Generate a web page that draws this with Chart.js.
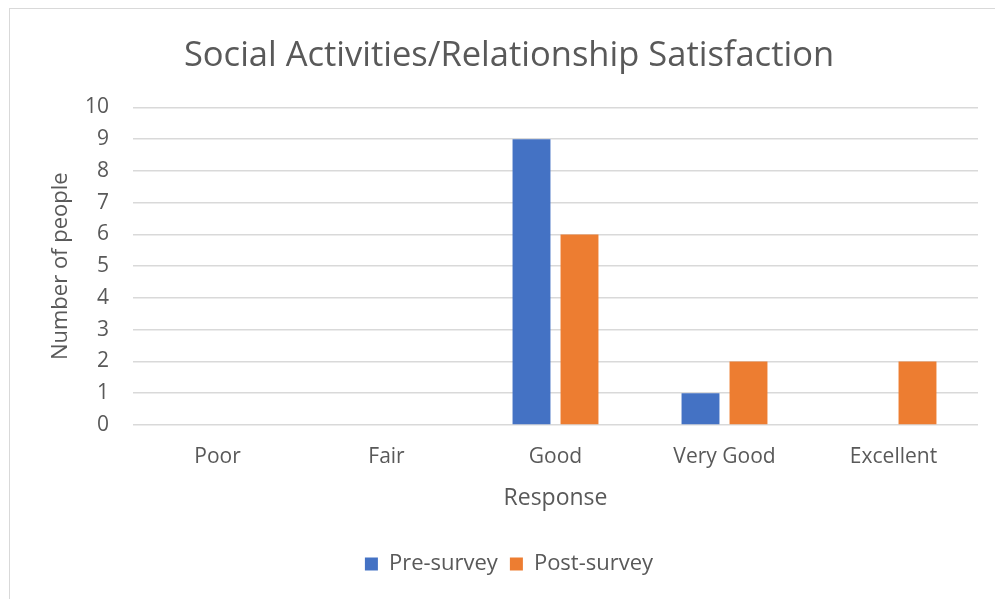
<!DOCTYPE html>
<html><head><meta charset="utf-8">
<script src="https://cdn.jsdelivr.net/npm/chart.js@4/dist/chart.umd.min.js"></script>
<style>
html,body{margin:0;padding:0;background:#fff;}
#wrap{position:relative;width:995px;height:599px;}
#frame{position:absolute;left:9px;top:8px;width:1000px;height:700px;border:1px solid #d9d9d9;box-sizing:border-box;}
canvas{position:absolute;left:0;top:0;}
</style></head>
<body><div id="wrap"><div id="frame"></div><canvas id="c" width="995" height="599"></canvas></div>
<script>
const categories = ["Poor", "Fair", "Good", "Very Good", "Excellent"];
const preSurvey = [0, 0, 9, 1, 0];
const postSurvey = [0, 0, 6, 2, 2];
const seriesNames = ["Pre-survey", "Post-survey"];
const chartTitle = "Social Activities/Relationship Satisfaction";
const yTitle = "Number of people";
const xTitle = "Response";

const FONT = "'Open Sans', Lato, sans-serif";
const TXT = "#595959";
Chart.defaults.font.family = FONT;
Chart.defaults.color = TXT;

new Chart(document.getElementById('c'), {
  type: 'bar',
  data: {
    labels: categories,
    datasets: [
      {label: seriesNames[0], data: preSurvey, backgroundColor: '#4472C4', categoryPercentage: 0.568, barPercentage: 0.79},
      {label: seriesNames[1], data: postSurvey, backgroundColor: '#ED7D31', categoryPercentage: 0.568, barPercentage: 0.79}
    ]
  },
  options: {
    responsive: false,
    animation: false,
    layout: {padding: {left: 40, right: 17, top: 30, bottom: 14}},
    plugins: {
      title: {display: true, text: chartTitle, color: TXT, font: {size: 34.5, weight: 'normal', family: FONT}, padding: {top: 5, bottom: 31}},
      legend: {position: 'bottom', labels: {boxWidth: 13, boxHeight: 13, color: TXT, font: {size: 22}, padding: 12}},
      tooltip: {enabled: false}
    },
    scales: {
      x: {
        grid: {display: false},
        border: {display: false},
        ticks: {color: TXT, font: {size: 21}, padding: 11},
        title: {display: true, text: xTitle, color: TXT, font: {size: 23}, padding: {top: 0, bottom: 29}},
        afterFit: (s) => { s.height = 116; }
      },
      y: {
        min: 0, max: 10,
        ticks: {stepSize: 1, color: TXT, font: {size: 21}, padding: 24},
        grid: {color: '#d9d9d9', lineWidth: 1.5, drawTicks: false},
        border: {display: false},
        title: {display: true, text: yTitle, color: TXT, font: {size: 22}, padding: {top: 8, bottom: 8}},
        afterFit: (s) => { s.width = 93; }
      }
    }
  }
});
</script></body></html>
